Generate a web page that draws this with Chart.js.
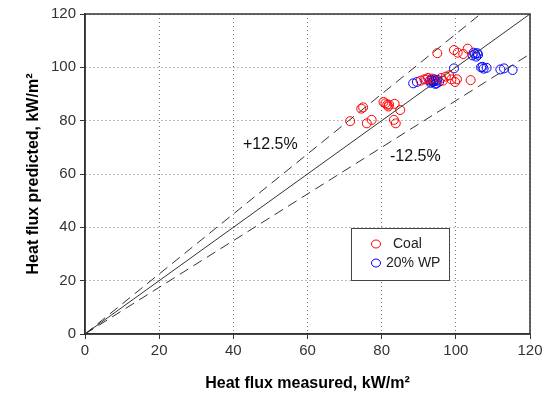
<!DOCTYPE html>
<html>
<head>
<meta charset="utf-8">
<script src="https://cdn.jsdelivr.net/npm/chart.js@4"></script>
<style>
  body { margin: 0; background: #fff; }
  #wrap { width: 550px; height: 397px; }
</style>
</head>
<body>
<div id="wrap"><canvas id="myChart"></canvas></div>
<script>
const coalX = [71.5, 74.5, 75, 76, 77.3, 80.5, 81, 81.5, 81.8, 82, 83.5, 85, 83.3, 83.8,
  90.5, 91.5, 92, 92.5, 93.5, 95, 96, 96.5, 97.3, 98.2, 98.8, 99.5, 99.8, 100.3, 100.5, 102, 103.2, 104];
const coalY = [79.8, 84.5, 85, 79, 80.3, 87, 86.5, 86, 85.3, 86, 86.3, 84, 80.3, 79,
  95, 95.5, 95.5, 96, 95.8, 105.3, 96, 95, 96.5, 97, 95.5, 106.5, 94.5, 95.5, 105.5, 105, 107, 95.2];
const wpX = [88.5, 89.5, 93, 93.2, 93.5, 93.8, 94, 94.2, 94.6, 94.8, 95, 95.5, 94.5, 99.5,
  104.5, 104.8, 105.2, 105.8, 106, 105.5, 106.8, 107.2, 107.5, 108.3, 112, 113, 115.3];
const wpY = [94, 94.5, 95, 94.2, 95.3, 94.5, 94.8, 95.5, 95, 94, 95.3, 94.6, 93.8, 99.6,
  104.5, 105.5, 105, 105.3, 104.7, 104, 100, 100.2, 99.5, 99.8, 99.2, 99.6, 99];
const axisTicks = [0, 20, 40, 60, 80, 100, 120];
const band = 0.125;

const ctx = document.getElementById('myChart');
const pts = (xs, ys) => xs.map((x, i) => ({ x: x, y: ys[i] }));

// legend box + percent labels drawn inside the plot
const extras = {
  id: 'extras',
  afterDraw(chart) {
    const c = chart.ctx;
    c.save();
    c.font = '16px Arial, "Liberation Sans", sans-serif';
    c.fillStyle = '#111';
    c.textBaseline = 'middle';
    c.fillText('+' + (band * 100) + '%', 243, 145);
    c.fillText('-' + (band * 100) + '%', 390, 157);

    // legend
    c.fillStyle = '#fff';
    c.fillRect(351, 228, 98, 52);
    c.strokeStyle = '#444';
    c.lineWidth = 1;
    c.strokeRect(351.5, 228.5, 98, 52);
    const items = chart.data.datasets.filter(d => d.type === 'scatter');
    items.forEach((d, i) => {
      const y = 244 + i * 19;
      c.beginPath();
      c.ellipse(376, y, 4.5, 4, 0, 0, Math.PI * 2);
      c.strokeStyle = d.borderColor;
      c.stroke();
      c.fillStyle = '#222';
      c.font = '14px Arial, "Liberation Sans", sans-serif';
      c.fillText(d.label, i === 0 ? 393 : 386, y);
    });
    c.restore();
  }
};

const gridOpts = { color: '#777', drawTicks: true, tickLength: 5, tickColor: '#333' };
const borderOpts = { color: '#333', width: 1.5, dash: [1, 3] };
const tickFont = { family: 'Arial', size: 15 };
const titleFont = { family: 'Arial', size: 16, weight: 'bold' };

new Chart(ctx, {
  data: {
    datasets: [
      {
        type: 'line', label: 'ref',
        data: [{ x: 0, y: 0 }, { x: 120, y: 120 }],
        borderColor: '#333', borderWidth: 1, pointRadius: 0
      },
      {
        type: 'line', label: 'upper',
        data: [{ x: 0, y: 0 }, { x: 120 / (1 + band), y: 120 }],
        borderColor: '#333', borderWidth: 1, borderDash: [10, 6], pointRadius: 0
      },
      {
        type: 'line', label: 'lower',
        data: [{ x: 0, y: 0 }, { x: 120, y: 120 * (1 - band) }],
        borderColor: '#333', borderWidth: 1, borderDash: [10, 6], pointRadius: 0
      },
      {
        type: 'scatter', label: 'Coal',
        data: pts(coalX, coalY),
        borderColor: '#ff0000', backgroundColor: 'rgba(0,0,0,0)',
        pointRadius: 4.5, borderWidth: 1
      },
      {
        type: 'scatter', label: '20% WP',
        data: pts(wpX, wpY),
        borderColor: '#0000ff', backgroundColor: 'rgba(0,0,0,0)',
        pointRadius: 4.5, borderWidth: 1
      }
    ]
  },
  options: {
    responsive: true,
    maintainAspectRatio: false,
    animation: false,
    layout: { padding: { left: 20, right: 20, top: 14, bottom: 0 } },
    plugins: {
      legend: { display: false },
      tooltip: { enabled: false }
    },
    scales: {
      x: {
        type: 'linear', min: 0, max: 120,
        afterBuildTicks: s => { s.ticks = axisTicks.map(v => ({ value: v })); },
        afterFit: s => { s.height = 63; },
        grid: gridOpts,
        border: borderOpts,
        ticks: { color: '#333', font: tickFont, padding: 3, maxRotation: 0 },
        title: {
          display: true, text: 'Heat flux measured, kW/m\u00B2', color: '#000',
          font: titleFont, padding: { top: 4 }
        }
      },
      y: {
        type: 'linear', min: 0, max: 120,
        afterBuildTicks: s => { s.ticks = axisTicks.map(v => ({ value: v })); },
        afterFit: s => { s.width = 65; },
        grid: gridOpts,
        border: borderOpts,
        ticks: { color: '#333', font: tickFont, padding: 4 },
        title: {
          display: true, text: 'Heat flux predicted, kW/m\u00B2', color: '#000',
          font: titleFont, padding: { bottom: 4 }
        }
      }
    }
  },
  plugins: [extras, {
    id: 'frame',
    afterDatasetsDraw(chart) {
      const a = chart.chartArea, c = chart.ctx;
      c.save();
      c.strokeStyle = '#333';
      c.lineWidth = 1.5;
      c.strokeRect(a.left, a.top, a.right - a.left, a.bottom - a.top);
      c.restore();
    }
  }]
});
</script>
</body>
</html>
